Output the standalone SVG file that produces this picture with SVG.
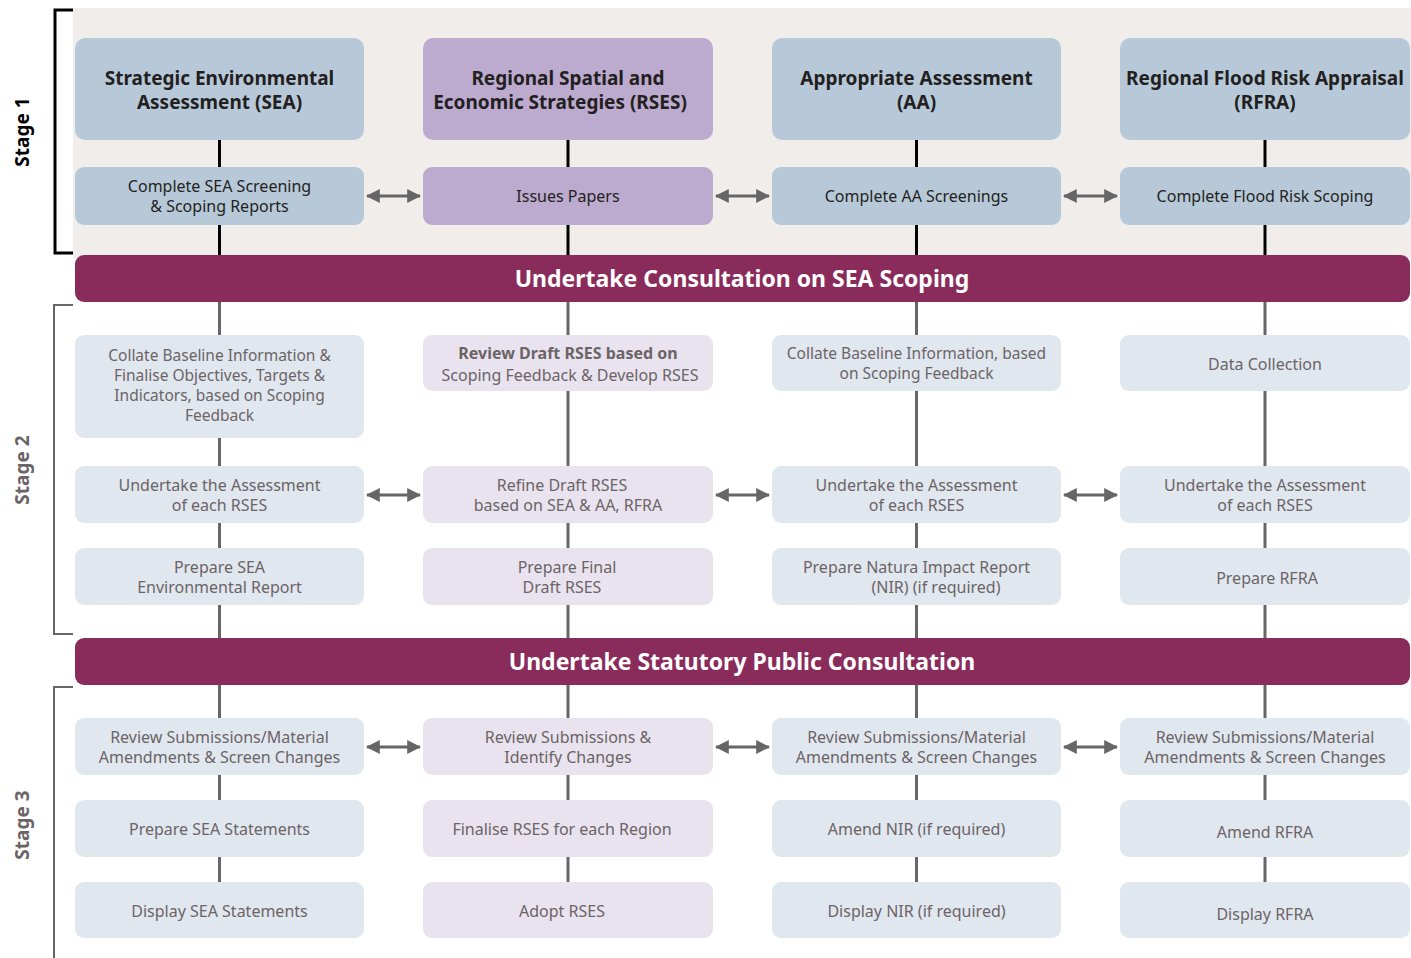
<svg xmlns="http://www.w3.org/2000/svg" width="1411" height="958" viewBox="0 0 1411 958">
<defs>
<style>
.bg{fill:#f1edea}
.hb{fill:#b7c9d9}
.hp{fill:#bcaacf}
.lb{fill:#e1e7ef}
.lp{fill:#e9e3ef}
.band{fill:#8a2c5b}
.t1{font-family:"Noto Sans","Open Sans",sans-serif;font-size:16px;fill:#231f20;text-anchor:middle}
.th{font-family:"Noto Sans","Open Sans",sans-serif;font-size:19px;font-weight:bold;fill:#231f20;text-anchor:middle}
.t2{font-family:"Noto Sans","Open Sans",sans-serif;font-size:16px;fill:#6b6466;text-anchor:middle}
.t2s{font-size:15.5px}
.t2b{font-weight:bold}
.bt{font-family:"Noto Sans","Open Sans",sans-serif;font-size:23px;font-weight:bold;fill:#ffffff;text-anchor:middle}
.st{font-family:"Noto Sans","Open Sans",sans-serif;font-size:19px;font-weight:bold;text-anchor:middle}
.cb{stroke:#000;stroke-width:3;fill:none}
.cg{stroke:#666;stroke-width:3;fill:none}
.ar{stroke:#666;stroke-width:3;fill:none;marker-start:url(#ah);marker-end:url(#ah)}
</style>
<marker id="ah" viewBox="0 0 12 12" refX="11" refY="6" markerWidth="14" markerHeight="14" markerUnits="userSpaceOnUse" orient="auto-start-reverse">
<path d="M0,0 L12,6 L0,12 z" fill="#666"/>
</marker>
</defs>

<rect class="bg" x="73" y="8" width="1338" height="250"/>

<g id="brackets">
<path d="M73,10 H55 V253 H73" stroke="#000" stroke-width="3" fill="none"/>
<path d="M73,305 H54 V634 H73" stroke="#666" stroke-width="2" fill="none"/>
<path d="M73,687 H54 V958" stroke="#666" stroke-width="2" fill="none"/>
</g>

<g id="stage-labels">
<text class="st" fill="#000" transform="translate(29,132) rotate(-90)">Stage 1</text>
<text class="st" fill="#6b6466" transform="translate(29,470) rotate(-90)">Stage 2</text>
<text class="st" fill="#6b6466" transform="translate(29,825) rotate(-90)">Stage 3</text>
</g>

<g id="connectors">
<line class="cb" x1="219.5" y1="140" x2="219.5" y2="255"/>
<line class="cb" x1="568" y1="140" x2="568" y2="255"/>
<line class="cb" x1="916.5" y1="140" x2="916.5" y2="255"/>
<line class="cb" x1="1265" y1="140" x2="1265" y2="255"/>
<line class="cg" x1="219.5" y1="302" x2="219.5" y2="882"/>
<line class="cg" x1="568" y1="302" x2="568" y2="882"/>
<line class="cg" x1="916.5" y1="302" x2="916.5" y2="882"/>
<line class="cg" x1="1265" y1="302" x2="1265" y2="882"/>
<line class="ar" x1="367" y1="196" x2="420" y2="196"/>
<line class="ar" x1="716" y1="196" x2="769" y2="196"/>
<line class="ar" x1="1064" y1="196" x2="1117" y2="196"/>
<line class="ar" x1="367" y1="495" x2="420" y2="495"/>
<line class="ar" x1="716" y1="495" x2="769" y2="495"/>
<line class="ar" x1="1064" y1="495" x2="1117" y2="495"/>
<line class="ar" x1="367" y1="747" x2="420" y2="747"/>
<line class="ar" x1="716" y1="747" x2="769" y2="747"/>
<line class="ar" x1="1064" y1="747" x2="1117" y2="747"/>
</g>

<g id="sea-head"><rect class="hb" x="75" y="38" width="289" height="102" rx="10"/>
<text class="th" x="219.5" y="85">Strategic Environmental</text><text class="th" x="219.5" y="109">Assessment (SEA)</text></g>
<g id="rses-head"><rect class="hp" x="423" y="38" width="290" height="102" rx="10"/>
<text class="th" x="568" y="85">Regional Spatial and</text><text class="th" x="560" y="109">Economic Strategies (RSES)</text></g>
<g id="aa-head"><rect class="hb" x="772" y="38" width="289" height="102" rx="10"/>
<text class="th" x="916.5" y="85">Appropriate Assessment</text><text class="th" x="916.5" y="109">(AA)</text></g>
<g id="rfra-head"><rect class="hb" x="1120" y="38" width="290" height="102" rx="10"/>
<text class="th" x="1265" y="85">Regional Flood Risk Appraisal</text><text class="th" x="1265" y="109">(RFRA)</text></g>

<g id="sea-s1"><rect class="hb" x="75" y="167" width="289" height="58" rx="9"/>
<text class="t1" x="219.5" y="192">Complete SEA Screening</text><text class="t1" x="219.5" y="212">&amp; Scoping Reports</text></g>
<g id="rses-s1"><rect class="hp" x="423" y="167" width="290" height="58" rx="9"/>
<text class="t1" x="568" y="202">Issues Papers</text></g>
<g id="aa-s1"><rect class="hb" x="772" y="167" width="289" height="58" rx="9"/>
<text class="t1" x="916.5" y="202">Complete AA Screenings</text></g>
<g id="rfra-s1"><rect class="hb" x="1120" y="167" width="290" height="58" rx="9"/>
<text class="t1" x="1265" y="202">Complete Flood Risk Scoping</text></g>

<g id="band1"><rect class="band" x="75" y="255" width="1335" height="47" rx="9"/>
<text class="bt" x="742" y="287">Undertake Consultation on SEA Scoping</text></g>

<g id="sea-s2a"><rect class="lb" x="75" y="335" width="289" height="103" rx="9"/>
<text class="t2 t2s" x="219.5" y="361">Collate Baseline Information &amp;</text>
<text class="t2 t2s" x="219.5" y="381">Finalise Objectives, Targets &amp;</text>
<text class="t2 t2s" x="219.5" y="401">Indicators, based on Scoping</text>
<text class="t2 t2s" x="219.5" y="421">Feedback</text></g>
<g id="rses-s2a"><rect class="lp" x="423" y="335" width="290" height="56" rx="9"/>
<text class="t2 t2b" x="568" y="359">Review Draft RSES based on</text>
<text class="t2" x="570" y="381">Scoping Feedback &amp; Develop RSES</text></g>
<g id="aa-s2a"><rect class="lb" x="772" y="335" width="289" height="56" rx="9"/>
<text class="t2 t2s" x="916.5" y="359">Collate Baseline Information, based</text>
<text class="t2 t2s" x="916.5" y="379">on Scoping Feedback</text></g>
<g id="rfra-s2a"><rect class="lb" x="1120" y="335" width="290" height="56" rx="9"/>
<text class="t2" x="1265" y="370">Data Collection</text></g>

<g id="sea-s2b"><rect class="lb" x="75" y="466" width="289" height="57" rx="9"/>
<text class="t2" x="219.5" y="491">Undertake the Assessment</text><text class="t2" x="219.5" y="511">of each RSES</text></g>
<g id="rses-s2b"><rect class="lp" x="423" y="466" width="290" height="57" rx="9"/>
<text class="t2" x="562" y="491">Refine Draft RSES</text><text class="t2" x="568" y="511">based on SEA &amp; AA, RFRA</text></g>
<g id="aa-s2b"><rect class="lb" x="772" y="466" width="289" height="57" rx="9"/>
<text class="t2" x="916.5" y="491">Undertake the Assessment</text><text class="t2" x="916.5" y="511">of each RSES</text></g>
<g id="rfra-s2b"><rect class="lb" x="1120" y="466" width="290" height="57" rx="9"/>
<text class="t2" x="1265" y="491">Undertake the Assessment</text><text class="t2" x="1265" y="511">of each RSES</text></g>

<g id="sea-s2c"><rect class="lb" x="75" y="548" width="289" height="57" rx="9"/>
<text class="t2" x="219.5" y="573">Prepare SEA</text><text class="t2" x="219.5" y="593">Environmental Report</text></g>
<g id="rses-s2c"><rect class="lp" x="423" y="548" width="290" height="57" rx="9"/>
<text class="t2" x="567" y="573">Prepare Final</text><text class="t2" x="562" y="593">Draft RSES</text></g>
<g id="aa-s2c"><rect class="lb" x="772" y="548" width="289" height="57" rx="9"/>
<text class="t2" x="916.5" y="573">Prepare Natura Impact Report</text><text class="t2" x="936" y="593">(NIR) (if required)</text></g>
<g id="rfra-s2c"><rect class="lb" x="1120" y="548" width="290" height="57" rx="9"/>
<text class="t2" x="1267" y="584">Prepare RFRA</text></g>

<g id="band2"><rect class="band" x="75" y="638" width="1335" height="47" rx="9"/>
<text class="bt" x="742" y="670">Undertake Statutory Public Consultation</text></g>

<g id="sea-s3a"><rect class="lb" x="75" y="718" width="289" height="57" rx="9"/>
<text class="t2" x="219.5" y="743">Review Submissions/Material</text><text class="t2" x="219.5" y="763">Amendments &amp; Screen Changes</text></g>
<g id="rses-s3a"><rect class="lp" x="423" y="718" width="290" height="57" rx="9"/>
<text class="t2" x="568" y="743">Review Submissions &amp;</text><text class="t2" x="568" y="763">Identify Changes</text></g>
<g id="aa-s3a"><rect class="lb" x="772" y="718" width="289" height="57" rx="9"/>
<text class="t2" x="916.5" y="743">Review Submissions/Material</text><text class="t2" x="916.5" y="763">Amendments &amp; Screen Changes</text></g>
<g id="rfra-s3a"><rect class="lb" x="1120" y="718" width="290" height="57" rx="9"/>
<text class="t2" x="1265" y="743">Review Submissions/Material</text><text class="t2" x="1265" y="763">Amendments &amp; Screen Changes</text></g>

<g id="sea-s3b"><rect class="lb" x="75" y="800" width="289" height="57" rx="9"/>
<text class="t2" x="219.5" y="835">Prepare SEA Statements</text></g>
<g id="rses-s3b"><rect class="lp" x="423" y="800" width="290" height="57" rx="9"/>
<text class="t2" x="562" y="835">Finalise RSES for each Region</text></g>
<g id="aa-s3b"><rect class="lb" x="772" y="800" width="289" height="57" rx="9"/>
<text class="t2" x="916.5" y="835">Amend NIR (if required)</text></g>
<g id="rfra-s3b"><rect class="lb" x="1120" y="800" width="290" height="57" rx="9"/>
<text class="t2" x="1265" y="838">Amend RFRA</text></g>

<g id="sea-s3c"><rect class="lb" x="75" y="882" width="289" height="56" rx="9"/>
<text class="t2" x="219.5" y="917">Display SEA Statements</text></g>
<g id="rses-s3c"><rect class="lp" x="423" y="882" width="290" height="56" rx="9"/>
<text class="t2" x="562" y="917">Adopt RSES</text></g>
<g id="aa-s3c"><rect class="lb" x="772" y="882" width="289" height="56" rx="9"/>
<text class="t2" x="916.5" y="917">Display NIR (if required)</text></g>
<g id="rfra-s3c"><rect class="lb" x="1120" y="882" width="290" height="56" rx="9"/>
<text class="t2" x="1265" y="920">Display RFRA</text></g>
</svg>
